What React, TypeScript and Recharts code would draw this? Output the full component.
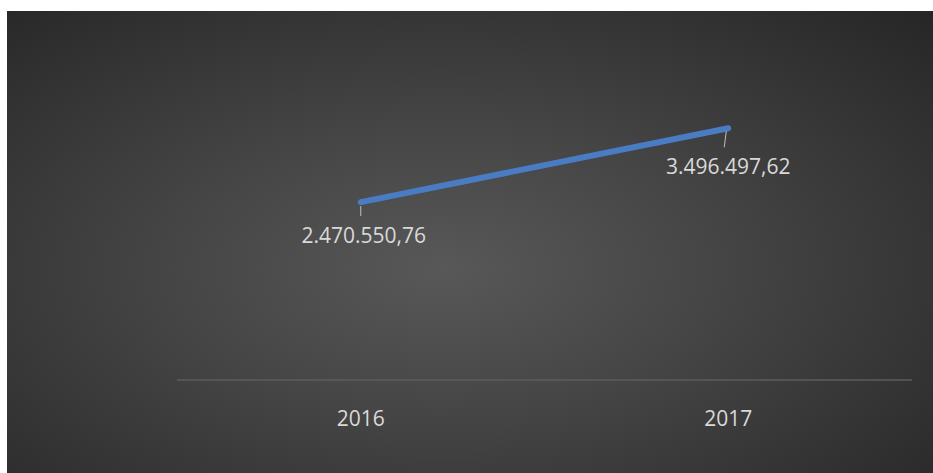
import { LabelList, Line, LineChart, XAxis, YAxis } from "recharts";

const years = ["2016", "2017"];
const totals = [2470550.76, 3496497.62];
const totalLabels = ["2.470.550,76", "3.496.497,62"];

const data = years.map((year, i) => ({ year, total: totals[i], label: totalLabels[i] }));

const TEXT = "#d9d9d9";
const FONT = "'Open Sans', 'Noto Sans', sans-serif";

// leader-line / label offsets relative to the point, per point
const labelOffsets = [
  { x1: 0, y1: 4, x2: 0, y2: 14, tx: 3, ty: 41 },
  { x1: -2, y1: 3, x2: -4, y2: 19, tx: 0, ty: 46 }
];

function ValueLabel(props: any) {
  const { x, y, index, value } = props;
  const o = labelOffsets[index] || labelOffsets[0];
  return (
    <g>
      <line x1={x + o.x1} y1={y + o.y1} x2={x + o.x2} y2={y + o.y2} stroke="#bfbfbf" strokeWidth={1} />
      <text x={x + o.tx} y={y + o.ty} textAnchor="middle" fill={TEXT} fontSize={21} fontFamily={FONT}>
        {value}
      </text>
    </g>
  );
}

function YearTick(props: any) {
  const { x, y, payload } = props;
  return (
    <text x={x} y={y + 38} textAnchor="middle" fill={TEXT} fontSize={21} fontFamily={FONT}>
      {payload.value}
    </text>
  );
}

export default function App() {
  return (
    <div
      style={{
        position: "absolute",
        left: 7,
        top: 11,
        width: 926,
        height: 462,
        background:
          "radial-gradient(ellipse farthest-corner at 47% 56%, #585858 0%, #454545 40%, #262626 100%)"
      }}
    >
      <LineChart width={926} height={462} data={data} margin={{ top: 81, right: 21, left: 170, bottom: 53 }}>
        <XAxis
          dataKey="year"
          height={40}
          padding={{ left: 183.75, right: 183.75 }}
          axisLine={{ stroke: "#5c5c5c", strokeWidth: 1.5 }}
          tickLine={false}
          tick={<YearTick />}
        />
        <YAxis hide domain={[0, 4000000]} />
        <Line
          type="linear"
          dataKey="total"
          stroke="#4a7cc4"
          strokeWidth={6}
          strokeLinecap="round"
          dot={false}
          isAnimationActive={false}
        >
          <LabelList dataKey="label" content={<ValueLabel />} />
        </Line>
      </LineChart>
    </div>
  );
}
